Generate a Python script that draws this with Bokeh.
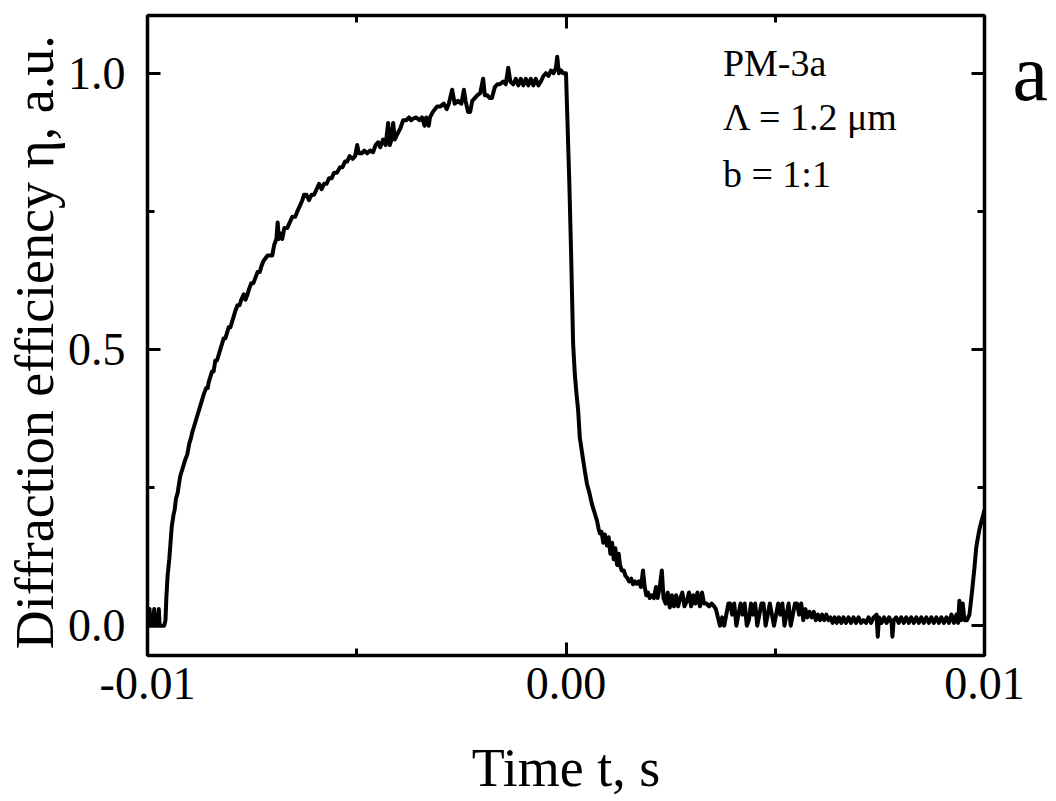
from bokeh.plotting import figure
from bokeh.models import Range1d, FixedTicker, NumeralTickFormatter, LinearAxis, Label
from bokeh.embed import file_html
from bokeh.resources import INLINE

base_ms = [-10.00, -9.97, -9.95, -9.93, -9.90, -9.87, -9.84, -9.81, -9.78, -9.75,
           -9.73, -9.71, -9.68, -9.64, -9.60, -9.57]
base_eta = [0.00, 0.00, 0.03, 0.00, 0.00, 0.00, 0.03, 0.00, 0.00, 0.00,
            0.03, 0.00, 0.00, 0.00, 0.00, 0.01]

rise_ms = [-9.55, -9.52, -9.48, -9.45, -9.42, -9.38, -9.35, -9.32, -9.28, -9.26,
           -9.22, -9.18, -9.14, -9.10, -9.05, -9.00, -8.96, -8.93, -8.89, -8.85,
           -8.81, -8.77, -8.73, -8.69, -8.65, -8.60, -8.56, -8.54, -8.50, -8.46,
           -8.42, -8.38, -8.34, -8.30, -8.26, -8.22, -8.18, -8.14, -8.10, -8.06,
           -8.02, -7.98, -7.94, -7.90, -7.85, -7.80, -7.76, -7.70, -7.66, -7.61,
           -7.57, -7.52, -7.47, -7.42, -7.37, -7.32, -7.28, -7.23, -7.18, -7.13,
           -7.08, -7.02, -6.97, -6.92, -6.89, -6.86, -6.82, -6.78, -6.73, -6.66,
           -6.60, -6.54, -6.47, -6.42, -6.36, -6.30, -6.26, -6.20, -6.14, -6.08,
           -6.02, -5.96, -5.90, -5.84, -5.78, -5.72, -5.66, -5.60, -5.54, -5.47,
           -5.40, -5.34, -5.28, -5.23, -5.17, -5.10, -5.04, -4.99, -4.95, -4.88,
           -4.82, -4.75, -4.68, -4.61, -4.55, -4.49, -4.44, -4.37, -4.31, -4.25,
           -4.21, -4.17, -4.13, -4.09, -4.03, -3.96, -3.89, -3.82, -3.75, -3.70,
           -3.65, -3.58, -3.50, -3.44, -3.38, -3.34, -3.28, -3.25, -3.18, -3.08,
           -3.00, -2.92, -2.85, -2.80, -2.72, -2.66, -2.58, -2.50, -2.44, -2.40,
           -2.34, -2.29, -2.24, -2.18, -2.12, -2.05, -1.98, -1.94, -1.88, -1.82,
           -1.77, -1.70, -1.64, -1.58, -1.50, -1.44, -1.38, -1.33, -1.26, -1.20,
           -1.14, -1.08, -1.02, -0.96, -0.90, -0.84, -0.78, -0.72, -0.66, -0.60,
           -0.54, -0.48, -0.42, -0.36, -0.30, -0.24, -0.21, -0.17, -0.12, -0.07,
           -0.03, 0.00]
rise_eta = [0.05, 0.09, 0.12, 0.15, 0.18, 0.20, 0.21, 0.23, 0.24, 0.25,
            0.27, 0.28, 0.29, 0.30, 0.31, 0.33, 0.34, 0.35, 0.36, 0.37,
            0.38, 0.39, 0.40, 0.41, 0.42, 0.43, 0.43, 0.44, 0.45, 0.46,
            0.46, 0.48, 0.48, 0.49, 0.50, 0.51, 0.52, 0.52, 0.53, 0.54,
            0.54, 0.55, 0.56, 0.57, 0.58, 0.58, 0.59, 0.60, 0.59, 0.60,
            0.61, 0.62, 0.62, 0.63, 0.64, 0.64, 0.65, 0.66, 0.665, 0.67,
            0.67, 0.67, 0.69, 0.70, 0.73, 0.70, 0.71, 0.70, 0.72, 0.72,
            0.73, 0.74, 0.74, 0.75, 0.76, 0.77, 0.78, 0.78, 0.77, 0.78,
            0.78, 0.79, 0.80, 0.79, 0.80, 0.80, 0.81, 0.81, 0.82, 0.82,
            0.83, 0.83, 0.84, 0.84, 0.85, 0.845, 0.85, 0.87, 0.855, 0.855,
            0.86, 0.855, 0.86, 0.857, 0.87, 0.875, 0.866, 0.88, 0.87, 0.91,
            0.87, 0.88, 0.91, 0.88, 0.89, 0.90, 0.915, 0.915, 0.92, 0.915,
            0.918, 0.92, 0.915, 0.92, 0.905, 0.92, 0.905, 0.92, 0.93, 0.94,
            0.94, 0.945, 0.935, 0.945, 0.97, 0.945, 0.95, 0.945, 0.97, 0.95,
            0.93, 0.93, 0.95, 0.955, 0.96, 0.964, 0.99, 0.96, 0.96, 0.955,
            0.955, 0.975, 0.98, 0.98, 0.985, 0.98, 1.01, 0.985, 0.98, 0.99,
            0.978, 0.99, 0.978, 0.99, 0.978, 0.99, 0.978, 0.99, 0.978, 0.985,
            0.995, 1.00, 0.995, 1.005, 1.00, 1.01, 1.03, 1.00, 1.005, 1.00,
            1.00, 1.00]

decay_ms = [0.04, 0.08, 0.12, 0.17, 0.21, 0.25, 0.29, 0.33, 0.37, 0.41,
            0.45, 0.50, 0.56, 0.62, 0.68, 0.74, 0.78, 0.81, 0.85, 0.89,
            0.93, 0.98, 1.02, 1.06, 1.10, 1.14, 1.18, 1.22, 1.26, 1.29,
            1.33, 1.38, 1.42, 1.46, 1.51, 1.56, 1.60, 1.65, 1.69, 1.74,
            1.79, 1.84, 1.88, 1.92, 1.96, 2.00, 2.05, 2.10, 2.15, 2.19,
            2.24, 2.29, 2.33, 2.38, 2.43, 2.48, 2.53, 2.58, 2.63, 2.68,
            2.73, 2.78, 2.83, 2.89, 2.94, 2.99, 3.04, 3.09, 3.14, 3.20,
            3.25, 3.30, 3.36, 3.42, 3.48, 3.54, 3.58, 3.63, 3.68, 3.73,
            3.78, 3.83, 3.88, 3.92, 3.97, 4.02, 4.07, 4.12, 4.17, 4.22,
            4.27, 4.32, 4.37, 4.42, 4.47, 4.52, 4.57, 4.62, 4.67, 4.72,
            4.77, 4.82, 4.87, 4.92, 4.97, 5.02, 5.07, 5.12, 5.17, 5.22,
            5.27, 5.32, 5.37, 5.42, 5.47, 5.52, 5.57, 5.62, 5.67, 5.72,
            5.77, 5.82, 5.87, 5.92, 5.97, 6.02, 6.07, 6.12, 6.17, 6.22,
            6.27, 6.32, 6.37, 6.42, 6.47, 6.52, 6.58, 6.63, 6.69, 6.75,
            6.81, 6.87, 6.93, 6.99, 7.05, 7.11, 7.17, 7.23, 7.29, 7.35,
            7.42, 7.45, 7.48, 7.54, 7.60, 7.66, 7.72, 7.78, 7.80, 7.83,
            7.89, 7.95, 8.01, 8.07, 8.13, 8.19, 8.25, 8.31, 8.37, 8.43,
            8.49, 8.55, 8.61, 8.67, 8.73, 8.79, 8.85, 8.91, 8.97, 9.03,
            9.09, 9.15, 9.21, 9.27, 9.33, 9.37, 9.40, 9.44, 9.48, 9.52,
            9.58, 9.64, 9.70, 9.76, 9.80, 9.83, 9.88, 9.93, 9.97, 10.00]
decay_eta = [0.90, 0.80, 0.68, 0.51, 0.456, 0.42, 0.39, 0.34, 0.32, 0.30,
             0.28, 0.257, 0.24, 0.22, 0.205, 0.19, 0.175, 0.167, 0.17, 0.15,
             0.165, 0.145, 0.16, 0.13, 0.15, 0.12, 0.14, 0.11, 0.13, 0.11,
             0.10, 0.10, 0.09, 0.087, 0.08, 0.085, 0.075, 0.08, 0.076, 0.08,
             0.07, 0.10, 0.07, 0.055, 0.06, 0.05, 0.055, 0.05, 0.07, 0.05,
             0.07, 0.10, 0.05, 0.04, 0.06, 0.033, 0.055, 0.035, 0.055, 0.035,
             0.05, 0.06, 0.035, 0.045, 0.06, 0.035, 0.055, 0.04, 0.06, 0.035,
             0.06, 0.04, 0.04, 0.035, 0.04, 0.035, 0.03, 0.015, 0.00, 0.015,
             0.00, 0.02, 0.04, 0.04, 0.02, 0.04, 0.00, 0.02, 0.04, 0.02,
             0.04, 0.00, 0.01, 0.04, 0.02, 0.04, 0.00, 0.02, 0.04, 0.04,
             0.00, 0.02, 0.04, 0.02, 0.00, 0.02, 0.04, 0.02, 0.04, 0.00,
             0.02, 0.04, 0.00, 0.02, 0.04, 0.04, 0.02, 0.04, 0.01, 0.03,
             0.015, 0.025, 0.015, 0.025, 0.01, 0.02, 0.01, 0.02, 0.01, 0.02,
             0.01, 0.015, 0.005, 0.015, 0.005, 0.015, 0.005, 0.015, 0.005, 0.015,
             0.005, 0.015, 0.005, 0.015, 0.005, 0.01, 0.005, 0.015, 0.005, 0.015,
             0.02, -0.02, 0.015, 0.005, 0.015, 0.005, 0.015, 0.005, -0.02, 0.01,
             0.015, 0.005, 0.015, 0.005, 0.015, 0.005, 0.015, 0.005, 0.015, 0.005,
             0.015, 0.005, 0.015, 0.005, 0.015, 0.005, 0.015, 0.005, 0.015, 0.005,
             0.015, 0.005, 0.02, 0.005, 0.02, 0.005, 0.045, 0.01, 0.04, 0.01,
             0.01, 0.02, 0.06, 0.105, 0.14, 0.154, 0.175, 0.19, 0.20, 0.21]

time_s = [t / 1000 for t in base_ms + rise_ms + decay_ms]
eta = base_eta + rise_eta + decay_eta

x_ticks = [-0.01, 0.0, 0.01]
x_minor = [-0.005, 0.005]
y_ticks = [0.0, 0.5, 1.0]
y_minor = [0.25, 0.75]

notes = ["PM-3a", "\u039b = 1.2 \u03bcm", "b = 1:1"]
note_x = [0.00375, 0.00375, 0.00375]
note_y = [1.018, 0.920, 0.817]
panel_letter = "a"

FONT = "Liberation Serif"
W, H = 1051, 800

p = figure(width=W, height=H, output_backend="svg", toolbar_location=None,
           x_range=Range1d(-0.01, 0.01), y_range=Range1d(-0.054, 1.1045),
           min_border_left=147, min_border_right=66, min_border_top=15, min_border_bottom=145)
p.xgrid.visible = False
p.ygrid.visible = False
p.outline_line_color = "black"
p.outline_line_width = 3.5
p.background_fill_color = "white"

p.line(time_s, eta, line_color="black", line_width=4, line_join="round")


def style_axis(ax, ticks, minor, fmt, show_labels=True):
    ax.ticker = FixedTicker(ticks=ticks, minor_ticks=minor)
    ax.formatter = NumeralTickFormatter(format=fmt)
    ax.axis_line_color = None
    ax.major_tick_in = 13
    ax.major_tick_out = 0
    ax.minor_tick_in = 7
    ax.minor_tick_out = 0
    ax.major_tick_line_width = 3
    ax.minor_tick_line_width = 3
    ax.major_tick_line_color = "black"
    ax.minor_tick_line_color = "black"
    ax.major_label_text_font = FONT
    ax.axis_label_text_font = FONT
    ax.axis_label_text_font_style = "normal"
    ax.axis_label_text_color = "black"
    if show_labels:
        ax.major_label_text_color = "black"
        ax.major_label_text_font_size = "46px"
        ax.axis_label_text_font_size = "54px"
    else:
        # mirrored ticks only
        ax.major_label_text_color = None
        ax.major_label_text_font_size = "1px"
        ax.major_label_standoff = 0


style_axis(p.xaxis[0], x_ticks, x_minor, "0.00")
style_axis(p.yaxis[0], y_ticks, y_minor, "0.0")
p.xaxis[0].major_label_standoff = 12
p.yaxis[0].major_label_standoff = 22
p.xaxis[0].axis_label = "Time t, s"
p.xaxis[0].axis_label_standoff = 36
p.yaxis[0].axis_label = "Diffraction efficiency  \u03b7, a.u."
p.yaxis[0].axis_label_standoff = 0

top = LinearAxis()
style_axis(top, x_ticks, x_minor, "0.00", show_labels=False)
p.add_layout(top, "above")
right = LinearAxis()
style_axis(right, y_ticks, y_minor, "0.0", show_labels=False)
p.add_layout(right, "right")

# panel letter beside the frame, drawn as the only label of a bare right axis
letter_axis = LinearAxis(ticker=FixedTicker(ticks=[1.0], minor_ticks=[]),
                         major_label_overrides={1.0: panel_letter})
letter_axis.axis_line_color = None
letter_axis.major_tick_line_color = None
letter_axis.minor_tick_line_color = None
letter_axis.major_tick_in = 0
letter_axis.major_tick_out = 0
letter_axis.major_label_standoff = 28
letter_axis.major_label_text_font = FONT
letter_axis.major_label_text_font_size = "80px"
letter_axis.major_label_text_color = "black"
p.add_layout(letter_axis, "right")

for text, x, y in zip(notes, note_x, note_y):
    p.add_layout(Label(x=x, y=y, text=text, text_font=FONT, text_font_size="38px",
                       text_baseline="alphabetic", text_color="black"))

open("out.html", "w").write(file_html(p, INLINE))
